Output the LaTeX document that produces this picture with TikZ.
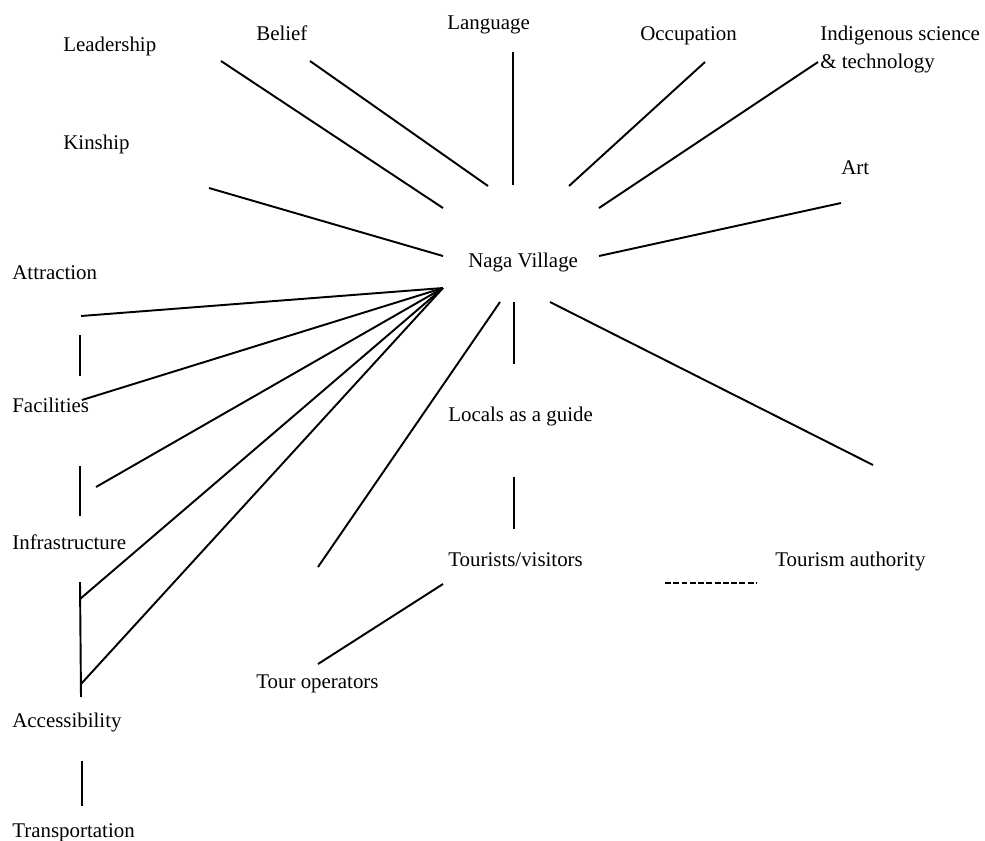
\documentclass[tikz,border=0pt]{standalone}
\usepackage{fontspec}
\setmainfont{Liberation Serif}
\tikzset{
  item/.style={anchor=base west, inner sep=0pt, font=\fontsize{11.9}{14}\selectfont},
  link/.style={line width=1.1pt},
  dashlink/.style={line width=0.9pt, dash pattern=on 3.4pt off 1.3pt}
}

\begin{document}
\begin{tikzpicture}[x=0.02cm, y=-0.02cm]
   \useasboundingbox (0,0) rectangle (985,840);
   % labels
   \node[item] (leadership) at (63,51) {Leadership};
   \node[item] (belief) at (256,40) {Belief};
   \node[item] (language) at (447,29) {Language};
   \node[item] (occupation) at (640,40) {Occupation};
   \node[item, align=left, font=\fontsize{11.9}{15.9}\selectfont] (indigenous) at (820,68) {Indigenous science\\\& technology};
   \node[item] (kinship) at (63,149) {Kinship};
   \node[item] (art) at (841,174) {Art};
   \node[item] (naga) at (468,267) {Naga Village};
   \node[item] (attraction) at (12,279) {Attraction};
   \node[item] (facilities) at (12,412) {Facilities};
   \node[item] (locals) at (448,421) {Locals as a guide};
   \node[item] (infra) at (12,549) {Infrastructure};
   \node[item] (tourists) at (448,566) {Tourists/visitors};
   \node[item] (authority) at (775,566) {Tourism authority};
   \node[item] (operators) at (256,688) {Tour operators};
   \node[item] (access) at (12,727) {Accessibility};
   \node[item] (transport) at (12,837) {Transportation};
   % free line ends
   \foreach \n/\x/\y in {hub/443/288,
      lead-a/221/61, lead-b/443/208, bel-a/310/61, bel-b/488/186,
      lang-a/513/52, lang-b/513/185, occ-a/705/62, occ-b/569/186,
      ind-a/818/62, ind-b/599/208, art-a/841/203, art-b/599/256,
      kin-a/209/188, kin-b/443/256,
      att-a/81/316, fac-a/82/400, inf-a/96/487, acc-a/80/599, acc-b/81/684,
      af-a/80/335, af-b/80/376, fi-a/80/466, fi-b/80/516,
      ia-a/80/582, ia-b/81/697, at-a/82/761, at-b/82/806,
      op-a/500/302, op-b/318/567, loc-a/514/302, loc-b/514/364,
      auth-a/550/302, auth-b/873/465, tour-a/514/477, tour-b/514/529,
      to-a/443/584, to-b/318/664, dash-a/665/583, dash-b/756/583}
      \coordinate (\n) at (\x,\y);
   \path[link]
    (lead-a) edge (lead-b)
    (bel-a) edge (bel-b)
    (lang-a) edge (lang-b)
    (occ-a) edge (occ-b)
    (ind-a) edge (ind-b)
    (art-a) edge (art-b)
    (kin-a) edge (kin-b)
    (att-a) edge (hub)
    (fac-a) edge (hub)
    (inf-a) edge (hub)
    (acc-a) edge (hub)
    (acc-b) edge (hub)
    (af-a) edge (af-b)
    (fi-a) edge (fi-b)
    (ia-a) edge (ia-b)
    (at-a) edge (at-b)
    (op-a) edge (op-b)
    (loc-a) edge (loc-b)
    (auth-a) edge (auth-b)
    (tour-a) edge (tour-b)
    (to-a) edge (to-b);
   \draw[dashlink] (dash-a) -- (dash-b);
\end{tikzpicture}
\end{document}
